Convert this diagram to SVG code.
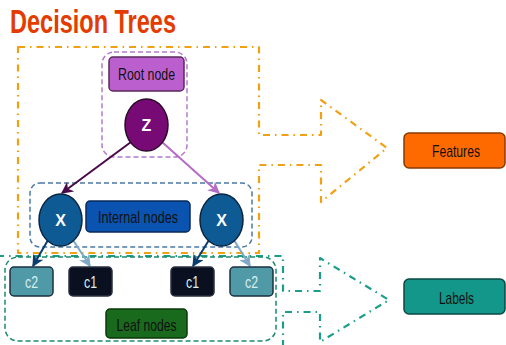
<svg xmlns="http://www.w3.org/2000/svg" width="506" height="345" viewBox="0 0 506 345">
<style>
  text { font-family: "Liberation Sans", "DejaVu Sans", sans-serif; }
  .lbl { font-size: 17px; fill: #111; text-anchor: middle; }
  .leaf { font-size: 17px; fill: #d8eef0; text-anchor: middle; }
  .var { font-size: 16px; font-weight: bold; fill: #fff; text-anchor: middle; }
  .grp { fill: none; stroke-width: 1.5; stroke-dasharray: 5 3; }
  .big { fill: none; stroke-width: 2.2; stroke-dasharray: 7 5 1.5 5; stroke-linejoin: round; }
  .conn { fill: none; stroke-width: 2; }
</style>
<defs>
  <marker id="mDP" viewBox="0 0 10 10" refX="9" refY="5" markerWidth="6" markerHeight="6" orient="auto-start-reverse"><path d="M0,0 L10,5 L0,10 L3,5 Z" fill="#4a0a4a"/></marker>
  <marker id="mLP" viewBox="0 0 10 10" refX="9" refY="5" markerWidth="6" markerHeight="6" orient="auto-start-reverse"><path d="M0,0 L10,5 L0,10 L3,5 Z" fill="#b46cc4"/></marker>
  <marker id="mDB" viewBox="0 0 10 10" refX="9" refY="5" markerWidth="6" markerHeight="6" orient="auto-start-reverse"><path d="M0,0 L10,5 L0,10 L3,5 Z" fill="#0a3d6e"/></marker>
  <marker id="mLB" viewBox="0 0 10 10" refX="9" refY="5" markerWidth="6" markerHeight="6" orient="auto-start-reverse"><path d="M0,0 L10,5 L0,10 L3,5 Z" fill="#7fa9c6"/></marker>
</defs>

<text x="10" y="33" font-size="33" font-weight="bold" fill="#e43c00" textLength="166" lengthAdjust="spacingAndGlyphs">Decision Trees</text>

<!-- big dash-dot outlines -->
<path class="big" stroke="#f0a010" d="M18,47 H259 V135 H321 V100 L387,148 L321,202 V165 H259 V253 H18 Z"/>
<path class="big" stroke="#1a9e88" d="M-3,256 H283 V291 H320 V258 L389,300 L320,342 V312 H283 V352 H-3 Z"/>

<!-- group regions -->
<rect class="grp" x="102" y="52" width="85" height="105" rx="12" stroke="#b478cc"/>
<rect class="grp" x="30" y="183" width="222" height="64" rx="10" stroke="#4a78a6"/>
<rect class="grp" x="5" y="257" width="271" height="84" rx="13" stroke="#1a8a6e" stroke-width="2"/>

<g id="connectors">
  <line class="conn" x1="131" y1="142" x2="62" y2="193" stroke="#4a0a4a" marker-end="url(#mDP)"/>
  <line class="conn" x1="162" y1="142" x2="219" y2="193" stroke="#b46cc4" marker-end="url(#mLP)"/>
  <line class="conn" x1="48" y1="240" x2="33" y2="266" stroke="#0a3d6e" marker-end="url(#mDB)"/>
  <line class="conn" x1="73" y1="240" x2="90" y2="266" stroke="#7fa9c6" marker-end="url(#mLB)"/>
  <line class="conn" x1="209" y1="240" x2="193" y2="266" stroke="#0a3d6e" marker-end="url(#mDB)"/>
  <line class="conn" x1="234" y1="240" x2="250" y2="266" stroke="#7fa9c6" marker-end="url(#mLB)"/>
</g>

<g id="root-label">
  <rect x="109" y="57" width="75" height="34" rx="4" fill="#bb5fcf" stroke="#5a2a5a" stroke-width="1.5"/>
  <text class="lbl" x="146.5" y="80" textLength="57" lengthAdjust="spacingAndGlyphs">Root node</text>
</g>
<g id="z">
  <ellipse cx="146.5" cy="125" rx="21.5" ry="26" fill="#780a76" stroke="#2a0a2a" stroke-width="1.5"/>
  <text class="var" x="146.5" y="131" font-size="15">Z</text>
</g>
<g id="x-left">
  <ellipse cx="60.5" cy="220" rx="21.5" ry="26" fill="#0d5a94" stroke="#0a2540" stroke-width="1.5"/>
  <text class="var" x="60.5" y="226">X</text>
</g>
<g id="x-right">
  <ellipse cx="221.5" cy="220" rx="21.5" ry="26" fill="#0d5a94" stroke="#0a2540" stroke-width="1.5"/>
  <text class="var" x="221.5" y="226">X</text>
</g>
<g id="internal-label">
  <rect x="86" y="201" width="104" height="31" rx="4" fill="#0a53b0" stroke="#0a2a5a" stroke-width="1.5"/>
  <text class="lbl" x="138" y="223" font-size="19" textLength="80" lengthAdjust="spacingAndGlyphs">Internal nodes</text>
</g>
<g id="c2-left">
  <rect x="10" y="267" width="43" height="29" rx="4" fill="#4f9aa6" stroke="#1a3040" stroke-width="1.5"/>
  <text class="leaf" x="31.5" y="288" textLength="13" lengthAdjust="spacingAndGlyphs">c2</text>
</g>
<g id="c1-left">
  <rect x="69" y="267" width="43" height="29" rx="4" fill="#0a1020" stroke="#2a3040" stroke-width="1.5"/>
  <text class="leaf" x="90.5" y="288" textLength="13" lengthAdjust="spacingAndGlyphs">c1</text>
</g>
<g id="c1-right">
  <rect x="171" y="267" width="43" height="29" rx="4" fill="#0a1020" stroke="#2a3040" stroke-width="1.5"/>
  <text class="leaf" x="192.5" y="288" textLength="13" lengthAdjust="spacingAndGlyphs">c1</text>
</g>
<g id="c2-right">
  <rect x="230" y="267" width="43" height="29" rx="4" fill="#4f9aa6" stroke="#1a3040" stroke-width="1.5"/>
  <text class="leaf" x="251.5" y="288" textLength="13" lengthAdjust="spacingAndGlyphs">c2</text>
</g>
<g id="leaf-label">
  <rect x="106" y="309" width="81" height="29" rx="4" fill="#1a6a1e" stroke="#0a3a0a" stroke-width="1.5"/>
  <text class="lbl" x="146.5" y="331" textLength="60" lengthAdjust="spacingAndGlyphs">Leaf nodes</text>
</g>
<g id="features">
  <rect x="404" y="133" width="101" height="35" rx="5" fill="#ff6a00" stroke="#8a3a00" stroke-width="1.5"/>
  <text class="lbl" x="456" y="157" textLength="48" lengthAdjust="spacingAndGlyphs">Features</text>
</g>
<g id="labels">
  <rect x="404" y="279" width="101" height="35" rx="5" fill="#12978a" stroke="#0a4a40" stroke-width="1.5"/>
  <text class="lbl" x="456.5" y="304" textLength="35" lengthAdjust="spacingAndGlyphs">Labels</text>
</g>
</svg>
